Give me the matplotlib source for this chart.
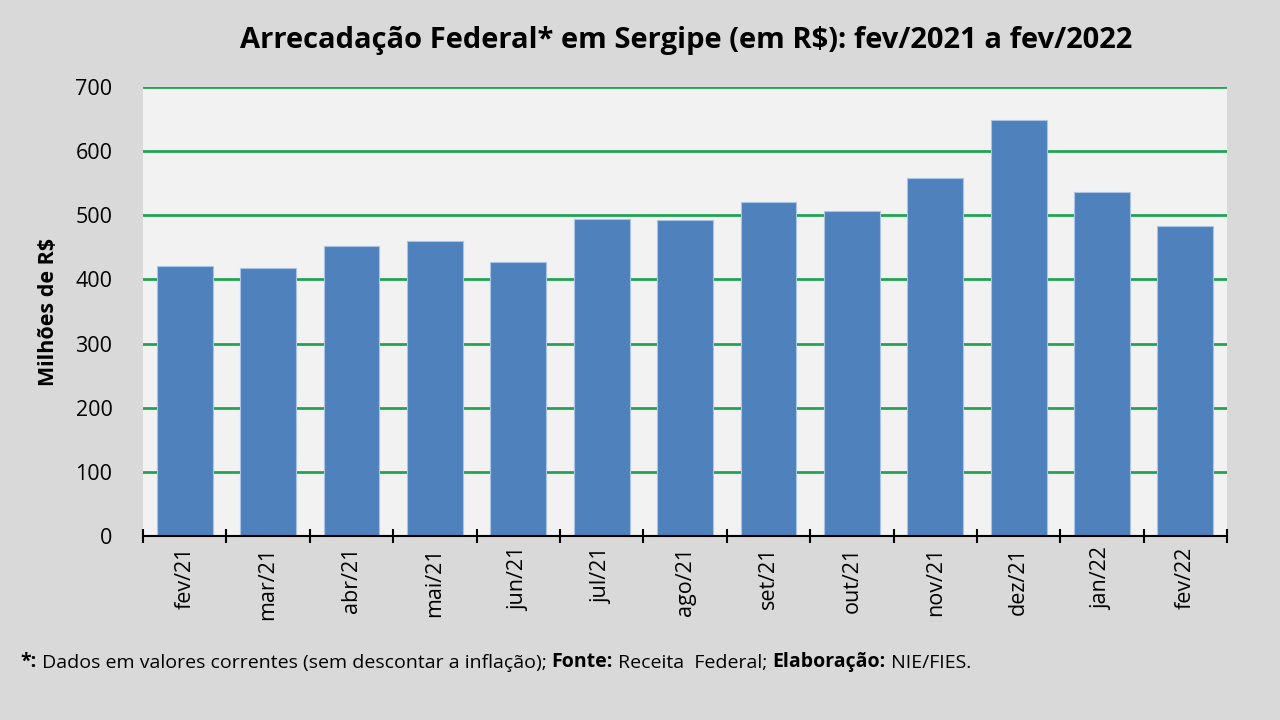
import numpy as np
import matplotlib.pyplot as plt

# Arrecadação Federal em Sergipe, milhões de R$
meses = ["fev/21", "mar/21", "abr/21", "mai/21", "jun/21", "jul/21", "ago/21",
         "set/21", "out/21", "nov/21", "dez/21", "jan/22", "fev/22"]
valores = [421, 418, 452, 460, 427, 495, 492, 521, 507, 558, 648, 536, 484]
yticks = [0, 100, 200, 300, 400, 500, 600, 700]

plt.rcParams['font.family'] = ['Open Sans', 'DejaVu Sans']

fig = plt.figure(figsize=(12.8, 7.2), dpi=100, facecolor="#d9d9d9")
ax = fig.add_axes([0.1117, 0.2556, 0.847, 0.6234])
ax.set_facecolor("#f2f2f2")

x = np.arange(len(meses))
ax.bar(x, valores, width=0.67, color="#4f81bd", edgecolor="#a9c4e4", linewidth=0.8, zorder=3)

ax.set_xlim(-0.5, len(meses) - 0.5)
ax.set_ylim(0, 700)
ax.set_yticks(yticks)
ax.set_yticklabels([str(v) for v in yticks], fontsize=15.5)
ax.tick_params(axis="y", length=0, pad=22)
ax.yaxis.grid(True, color="#22a354", linewidth=2, zorder=1)
ax.set_axisbelow(True)

# marcas nos limites das categorias, rótulos no centro
ax.set_xticks(np.arange(-0.5, len(meses), 1.0))
ax.set_xticklabels([])
ax.set_xticks(x, minor=True)
ax.set_xticklabels(meses, minor=True, rotation=90, fontsize=15.5)
ax.tick_params(axis="x", which="major", direction="inout", length=10, width=1.5, color="black")
ax.tick_params(axis="x", which="minor", length=0, pad=8)

for side in ["top", "right", "left"]:
    ax.spines[side].set_visible(False)
ax.spines["bottom"].set_linewidth(1.5)
ax.spines["bottom"].set_zorder(4)

ax.set_ylabel("Milhões de R$", fontsize=15.5, fontweight="bold", labelpad=12)

fig.text(0.536, 0.944, "Arrecadação Federal* em Sergipe (em R$): fev/2021 a fev/2022",
         ha="center", va="center", fontsize=21, fontweight="bold")

# nota de rodapé com partes em negrito
partes = [("*:", "bold"), (" Dados em valores correntes (sem descontar a inflação); ", "normal"),
          ("Fonte:", "bold"), (" Receita  Federal; ", "normal"),
          ("Elaboração:", "bold"), (" NIE/FIES.", "normal")]
anchor = fig.text(0.016, 0.066, partes[0][0], fontsize=14, fontweight=partes[0][1],
                  ha="left", va="bottom")
for txt, peso in partes[1:]:
    anchor = ax.annotate(txt, xy=(1, 0), xycoords=anchor, xytext=(0, 0),
                         textcoords="offset points", fontsize=14, fontweight=peso,
                         ha="left", va="bottom", annotation_clip=False)

fig.savefig("out.png", dpi=100, facecolor=fig.get_facecolor())
